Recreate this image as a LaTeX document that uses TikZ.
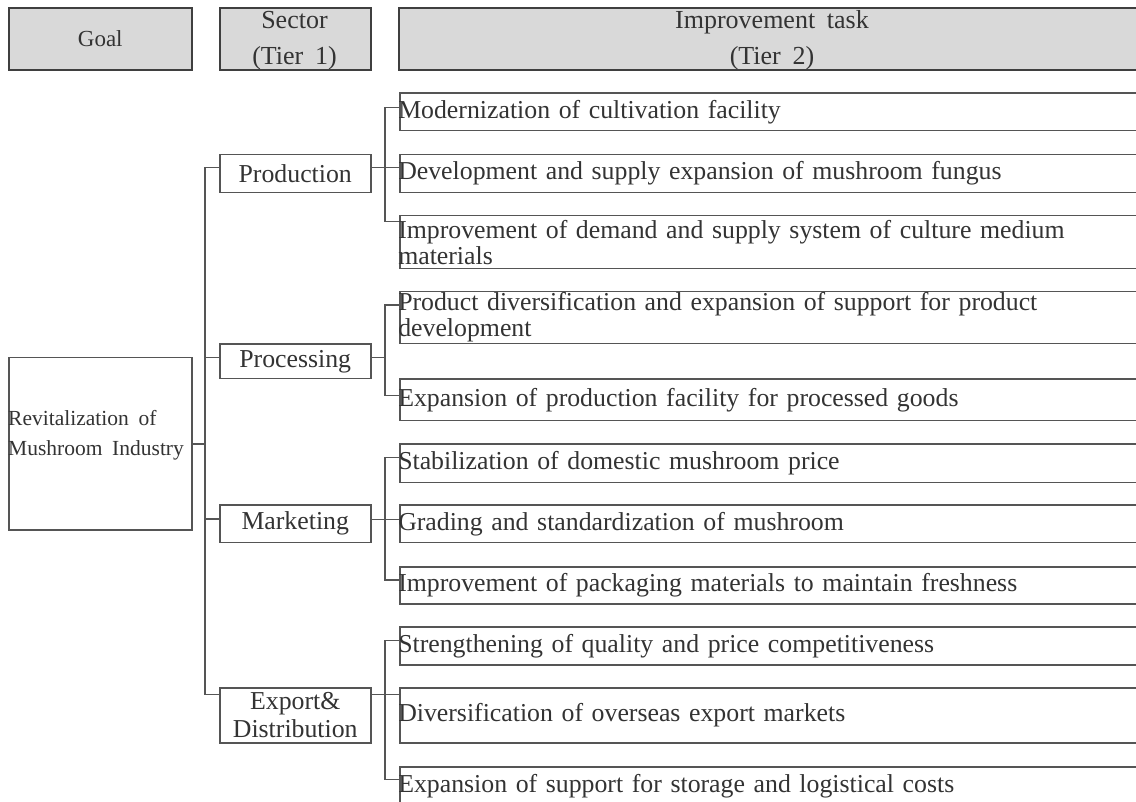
\documentclass[tikz,border=0pt]{standalone}
\usepackage{fontspec}
\setmainfont{Liberation Serif}[WordSpace=1.8]
\usetikzlibrary{calc}
\definecolor{ln}{HTML}{555555}
\definecolor{txt}{HTML}{333333}
\definecolor{hdr}{HTML}{D9D9D9}
\definecolor{hdrline}{HTML}{3F3F3F}
\newcommand\myfs{\fontsize{25.8}{26}\selectfont}
\begin{document}
\begin{tikzpicture}[x=1pt,y=-1pt,
  every node/.style={font=\myfs, text=txt},
  hbox/.style={draw=hdrline, fill=hdr, line width=1.5pt, inner sep=0pt, anchor=north west, minimum height=62pt},
  box/.style={draw=ln, line width=1.5pt, inner sep=0pt, fill=white},
  task/.style={box, anchor=north west, minimum width=747pt, text width=750pt, align=left, inner xsep=-1.5pt},
  sect/.style={box, anchor=north west, minimum width=151pt, align=center},
  conn/.style={draw=ln, line width=1.5pt},
  hdrtext/.style={font={\fontsize{26}{36}\selectfont}, align=center, inner sep=0pt}
]
\clip (0,0) rectangle (1136,802);
\fill[white] (0,0) rectangle (1136,802);

% headers
\node[hbox, minimum width=183pt, font={\fontsize{23}{26}\selectfont}] (hgoal) at (8,7.3) {Goal};
\node[hbox, minimum width=151pt] (hsec) at (219,7.3) {};
\node[hdrtext] (hsect) at (294.5,40.5) {Sector\\(Tier 1)};
\node[hbox, minimum width=748pt] (htask) at (398,7.3) {};
\node[hdrtext] (htaskt) at (772,40.5) {Improvement task\\(Tier 2)};

% goal
\node[box, anchor=north west, minimum width=183pt, minimum height=172pt] (goal) at (8,357) {};
\node[anchor=west, align=left, inner sep=0pt, font={\fontsize{21.5}{30}\selectfont}] (goalt) at (8,435) {Revitalization of\\Mushroom Industry};

% sectors
\node[sect, minimum height=37.7pt] (prod) at (219,154) {Production};
\node[sect, minimum height=34.4pt] (proc) at (219,343.3) {Processing};
\node[sect, minimum height=37.4pt] (mark) at (219,504.3) {Marketing};
\node[sect, minimum height=55pt, font={\fontsize{25.8}{28}\selectfont}] (expo) at (219,687) {Export\&\\Distribution};

% tasks
\node[task, minimum height=37.7pt] (m1) at (399,92.3) {Modernization of cultivation facility};
\node[task, minimum height=37.7pt] (m2) at (399,154) {Development and supply expansion of mushroom fungus};
\node[task, minimum height=52.7pt] (m3) at (399,215) {Improvement of demand and supply system of culture medium\\materials};
\node[task, minimum height=51.7pt] (p1) at (399,291) {Product diversification and expansion of support for product\\development};
\node[task, minimum height=41.7pt] (p2) at (399,378.3) {Expansion of production facility for processed goods};
\node[task, minimum height=38.4pt] (k1) at (399,443.3) {Stabilization of domestic mushroom price};
\node[task, minimum height=37.4pt] (k2) at (399,504.3) {Grading and standardization of mushroom};
\node[task, minimum height=37.3pt] (k3) at (399,566) {Improvement of packaging materials to maintain freshness};
\node[task, minimum height=38pt] (e1) at (399,626) {Strengthening of quality and price competitiveness};
\node[task, minimum height=55pt] (e2) at (399,687) {Diversification of overseas export markets};
\node[task, minimum height=38pt] (e3) at (399,766) {Expansion of support for storage and logistical costs};

% trunk
\coordinate (tr1) at (205,167.7);
\coordinate (tr2) at (205,357.7);
\coordinate (tr3) at (205,519);
\coordinate (tr4) at (205,694.3);
\draw[conn] (goal.east) -- (goal.east -| tr1);
\draw[conn] (tr1 -| prod.west) -- (tr1) -- (tr4) -- (tr4 -| expo.west);
\draw[conn] (tr2) -- (tr2 -| proc.west);
\draw[conn] (tr3) -- (tr3 -| mark.west);

% production group
\coordinate (a1) at (385,107.7);
\coordinate (a2) at (385,167.7);
\coordinate (a3) at (385,221.7);
\draw[conn] (a1 -| m1.west) -- (a1) -- (a3) -- (a3 -| m3.west);
\draw[conn] (a2 -| prod.east) -- (a2 -| m2.west);

% processing group
\coordinate (b1) at (385,305);
\coordinate (b2) at (385,357.7);
\coordinate (b3) at (385,395.7);
\draw[conn] (b1 -| p1.west) -- (b1) -- (b3) -- (b3 -| p2.west);
\draw[conn] (b2 -| proc.east) -- (b2);

% marketing group
\coordinate (c1) at (385,457.7);
\coordinate (c2) at (385,519.3);
\coordinate (c3) at (385,580);
\draw[conn] (c1 -| k1.west) -- (c1) -- (c3) -- (c3 -| k3.west);
\draw[conn] (c2 -| mark.east) -- (c2 -| k2.west);

% export group
\coordinate (d1) at (385,640.7);
\coordinate (d2) at (385,694.3);
\coordinate (d3) at (385,779.3);
\draw[conn] (d1 -| e1.west) -- (d1) -- (d3) -- (d3 -| e3.west);
\draw[conn] (d2 -| expo.east) -- (d2 -| e2.west);
\end{tikzpicture}
\end{document}
